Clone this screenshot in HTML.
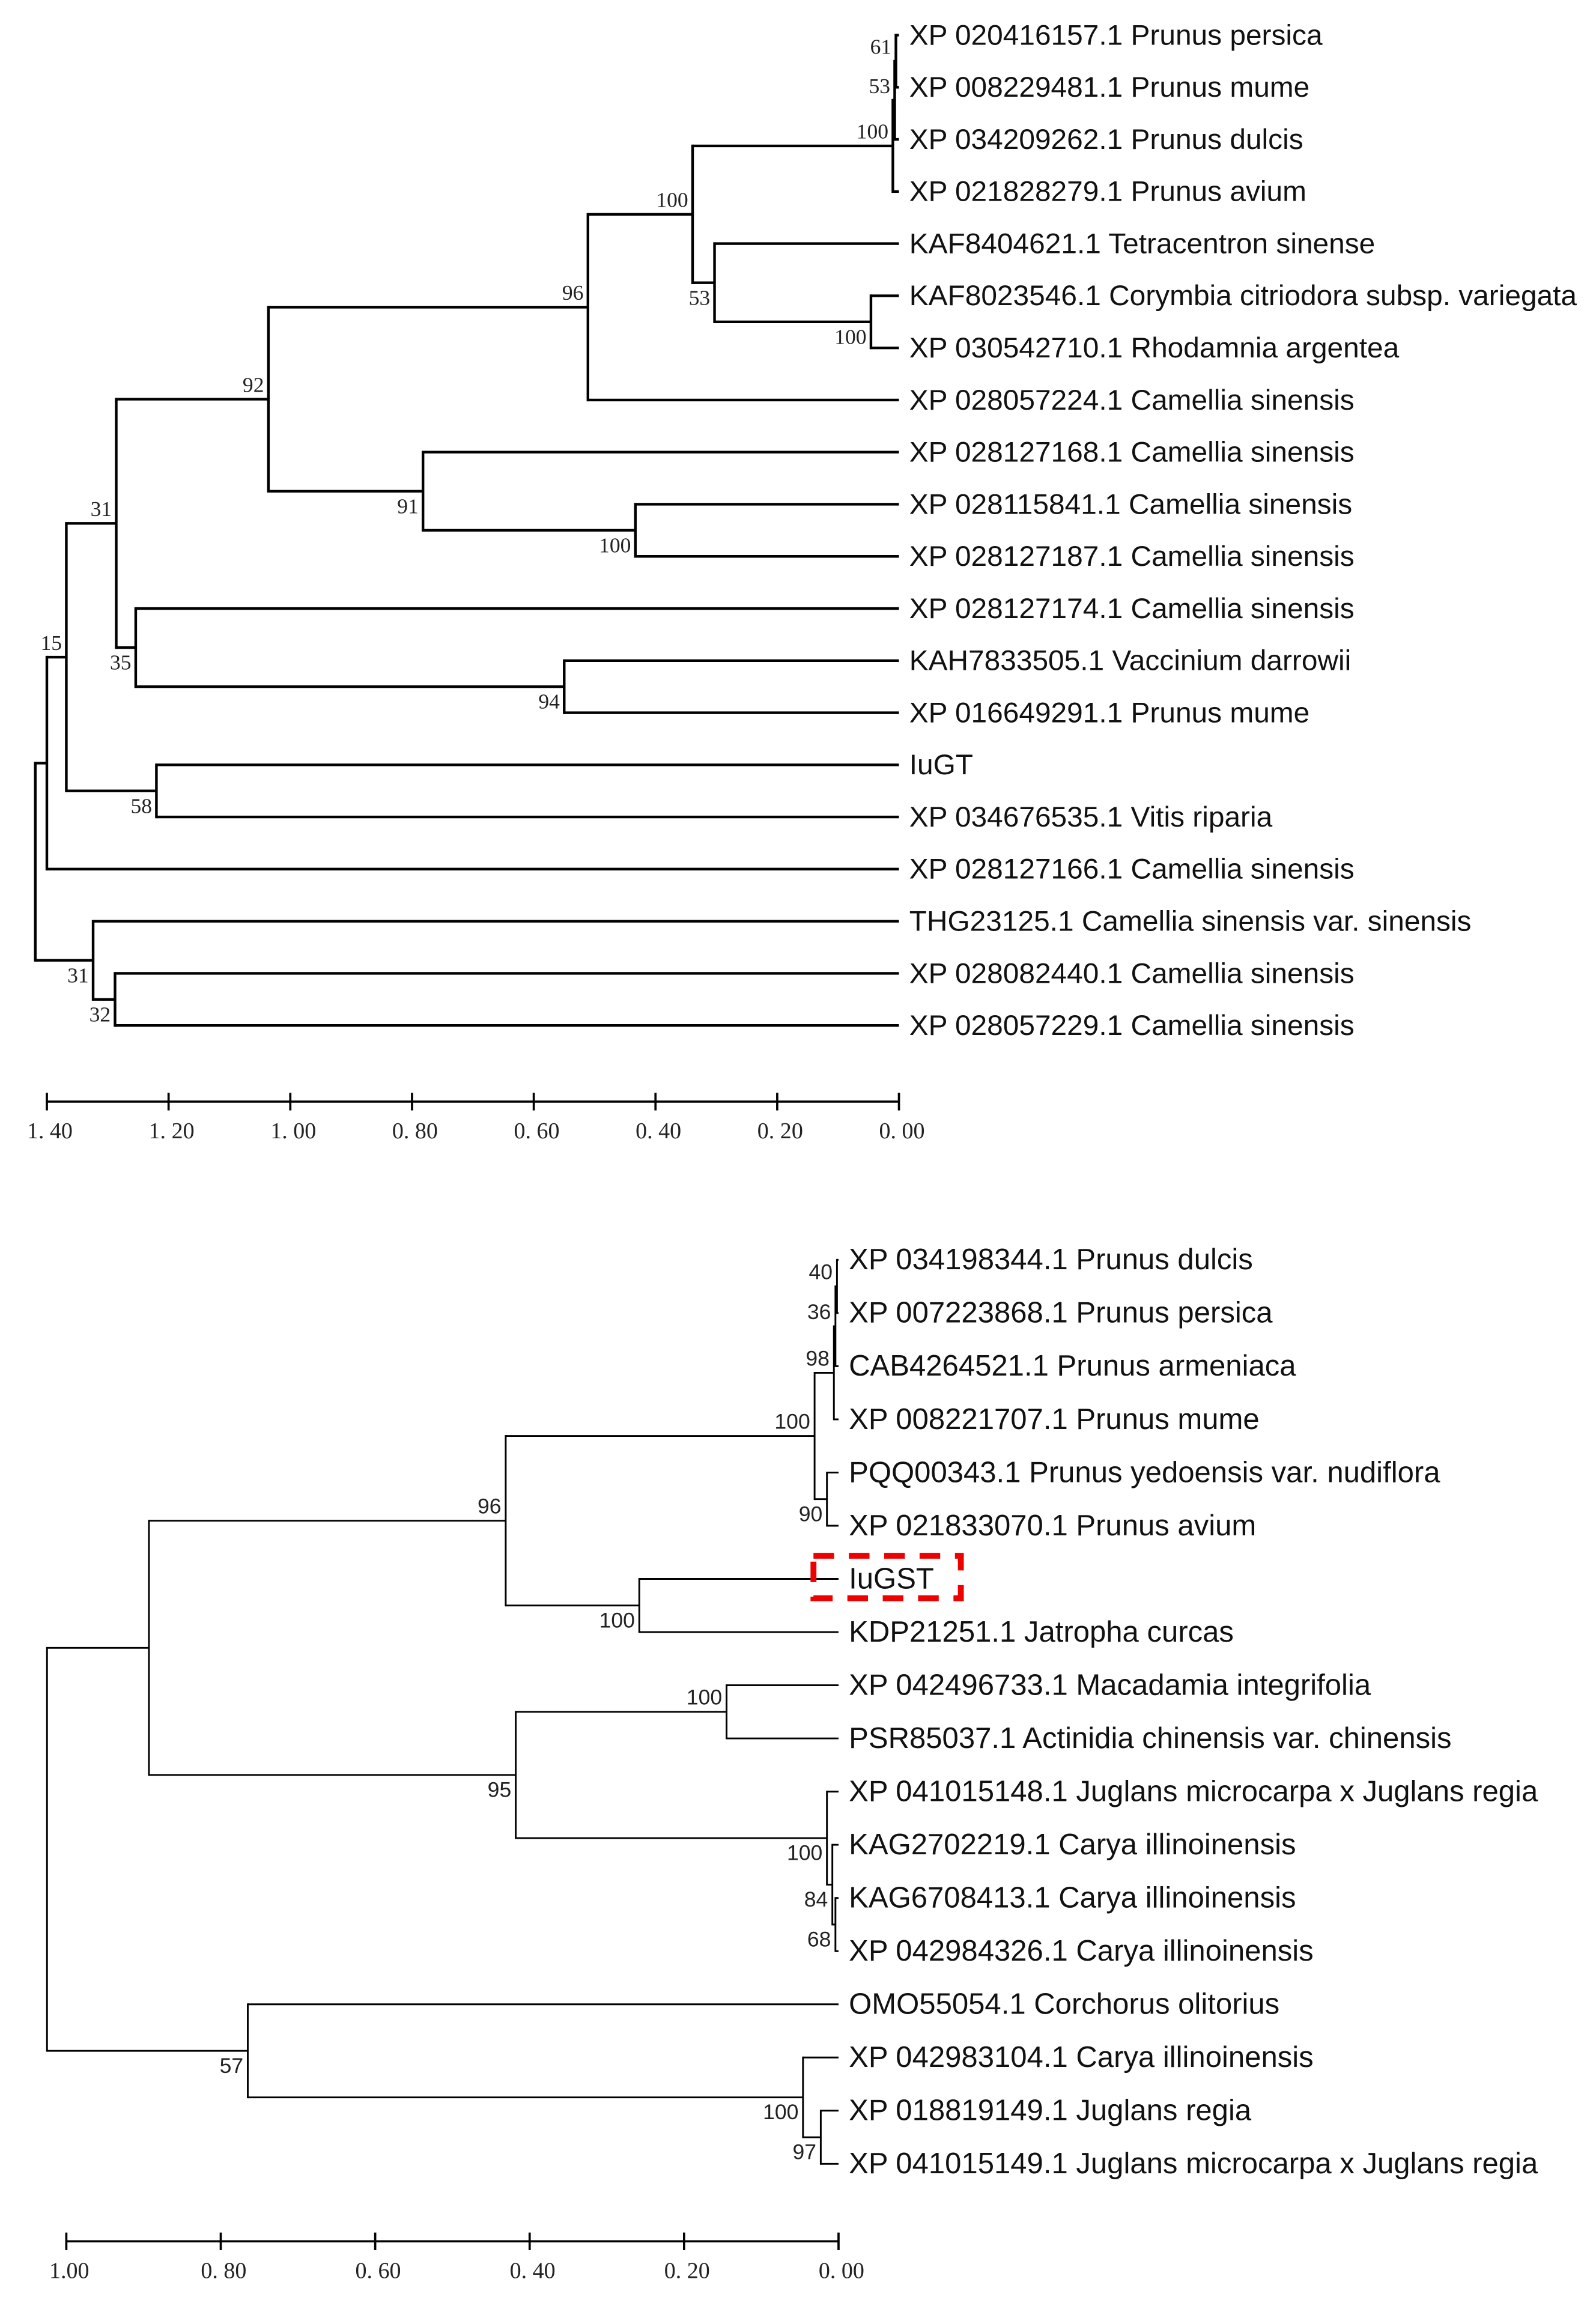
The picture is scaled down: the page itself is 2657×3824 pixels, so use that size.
<!DOCTYPE html>
<html><head><meta charset="utf-8"><style>
html,body{margin:0;padding:0;background:#fff;}
svg{display:block;}
.leaf{font-family:"Liberation Sans",sans-serif;font-size:19.5px;fill:#111;}
.leaf2{font-family:"Liberation Sans",sans-serif;font-size:20px;fill:#111;}
.bs{font-family:"Liberation Serif",serif;font-size:14.5px;fill:#222;}
.bs2{font-family:"Liberation Sans",sans-serif;font-size:14.5px;fill:#222;}
.ax{font-family:"Liberation Serif",serif;font-size:15.5px;fill:#222;}
</style></head><body>
<svg id="chart" width="2657" height="3824" viewBox="0 0 1083 1568" preserveAspectRatio="none" xmlns="http://www.w3.org/2000/svg">
<rect width="1083" height="1568" fill="#fff"/>
<g id="top"></g>
<g id="bot"></g>
<rect x="552" y="1062" width="100" height="29" fill="none" stroke="#e00" stroke-width="4" stroke-dasharray="14,10"/>
</svg>
<script>
// ---- top tree data ----
const topLeaves = ["XP 020416157.1 Prunus persica","XP 008229481.1 Prunus mume","XP 034209262.1 Prunus dulcis","XP 021828279.1 Prunus avium","KAF8404621.1 Tetracentron sinense","KAF8023546.1 Corymbia citriodora subsp. variegata","XP 030542710.1 Rhodamnia argentea","XP 028057224.1 Camellia sinensis","XP 028127168.1 Camellia sinensis","XP 028115841.1 Camellia sinensis","XP 028127187.1 Camellia sinensis","XP 028127174.1 Camellia sinensis","KAH7833505.1 Vaccinium darrowii","XP 016649291.1 Prunus mume","IuGT","XP 034676535.1 Vitis riparia","XP 028127166.1 Camellia sinensis","THG23125.1 Camellia sinensis var. sinensis","XP 028082440.1 Camellia sinensis","XP 028057229.1 Camellia sinensis"];
const topChildren = [[0,1],[20,2],[21,3],[5,6],[4,23],[22,24],[25,7],[9,10],[8,27],[26,28],[12,13],[11,30],[29,31],[14,15],[32,33],[34,16],[18,19],[17,36],[35,37]];
const topHeights = [0.005,0.007,0.01,0.046,0.303,0.339,0.511,0.433,0.782,1.036,0.550,1.254,1.286,1.220,1.368,1.400,1.288,1.324,1.419];
const topBoot = ["61","53","100","100","53","100","96","100","91","92","94","35","31","58","15","","32","31",""];
const topTicks = [1.4,1.2,1.0,0.8,0.6,0.4,0.2,0.0];
const topTickLabels = ["1. 40","1. 20","1. 00","0. 80","0. 60","0. 40","0. 20","0. 00"];
// ---- bottom tree data ----
const botLeaves = ["XP 034198344.1 Prunus dulcis","XP 007223868.1 Prunus persica","CAB4264521.1 Prunus armeniaca","XP 008221707.1 Prunus mume","PQQ00343.1 Prunus yedoensis var. nudiflora","XP 021833070.1 Prunus avium","IuGST","KDP21251.1 Jatropha curcas","XP 042496733.1 Macadamia integrifolia","PSR85037.1 Actinidia chinensis var. chinensis","XP 041015148.1 Juglans microcarpa x Juglans regia","KAG2702219.1 Carya illinoinensis","KAG6708413.1 Carya illinoinensis","XP 042984326.1 Carya illinoinensis","OMO55054.1 Corchorus olitorius","XP 042983104.1 Carya illinoinensis","XP 018819149.1 Juglans regia","XP 041015149.1 Juglans microcarpa x Juglans regia"];
const botChildren = [[0,1],[18,2],[19,3],[4,5],[20,21],[6,7],[22,23],[8,9],[12,13],[11,26],[10,27],[25,28],[24,29],[16,17],[15,31],[14,32],[30,33]];
const botHeights = [0.002,0.004,0.006,0.015,0.031,0.258,0.431,0.145,0.004,0.008,0.015,0.418,0.893,0.023,0.046,0.765,1.025];
const botBoot = ["40","36","98","90","100","100","96","100","68","84","100","95","","97","100","57",""];
const botTicks = [1.0,0.8,0.6,0.4,0.2,0.0];
const botTickLabels = ["1.00","0. 80","0. 60","0. 40","0. 20","0. 00"];

const NS="http://www.w3.org/2000/svg";
function mk(g,tag,attrs){const e=document.createElementNS(NS,tag);for(const k in attrs)e.setAttribute(k,attrs[k]);g.appendChild(e);return e;}

function drawTree(g,leaves,children,heights,boot,ticks,tickLabels,o){
  const xS=d=>o.x0-d*o.ppu;
  const nL=leaves.length;
  const X=[],Y=[];
  leaves.forEach((n,i)=>{X[i]=xS(0);Y[i]=o.y0+i*o.step;});
  children.forEach((c,j)=>{const id=nL+j;X[id]=xS(heights[j]);Y[id]=(Y[c[0]]+Y[c[1]])/2;});
  const sw=o.sw;
  children.forEach((c,j)=>{
    const id=nL+j;
    const v=mk(g,'line',{x1:X[id],x2:X[id],y1:Y[c[0]],y2:Y[c[1]],stroke:'#000','stroke-width':sw,'stroke-linecap':'square'});
    
    
    c.forEach((ch,k)=>{
      const h=mk(g,'line',{x1:X[id],x2:X[ch],y1:Y[ch],y2:Y[ch],stroke:'#000','stroke-width':sw});
      
      
      if(ch>=nL && boot[ch-nL]){
        const t=mk(g,'text',{x:X[ch]-3,y:k===0?Y[ch]-5:Y[ch]+15,'text-anchor':'end',class:o.bsClass});
        t.textContent=boot[ch-nL];
        
        
      }
    });
  });
  leaves.forEach((n,i)=>{
    const t=mk(g,'text',{x:X[i]+7,y:Y[i]+6.5,class:o.leafClass});
    t.textContent=n;
    
    
  });
  const a=mk(g,'line',{x1:xS(ticks[0]),x2:xS(0),y1:o.ay,y2:o.ay,stroke:'#000','stroke-width':1.5});
  
  
  ticks.forEach((tv,i)=>{
    const tk=mk(g,'line',{x1:xS(tv),x2:xS(tv),y1:o.ay-6,y2:o.ay+6,stroke:'#000','stroke-width':1.5});
    
    
    const tl=mk(g,'text',{x:xS(tv)+2,y:o.ay+25,'text-anchor':'middle',class:'ax'});
    tl.textContent=tickLabels[i];
    
    
  });
}
drawTree(document.getElementById('top'),topLeaves,topChildren,topHeights,topBoot,topTicks,topTickLabels,
  {x0:610,ppu:413,y0:24,step:35.58,sw:1.8,ay:752,bsClass:'bs',leafClass:'leaf'});
drawTree(document.getElementById('bot'),botLeaves,botChildren,botHeights,botBoot,botTicks,botTickLabels,
  {x0:569,ppu:524,y0:860,step:36.3,sw:1.2,ay:1530,bsClass:'bs2',leafClass:'leaf2'});
</script>
</body></html>
